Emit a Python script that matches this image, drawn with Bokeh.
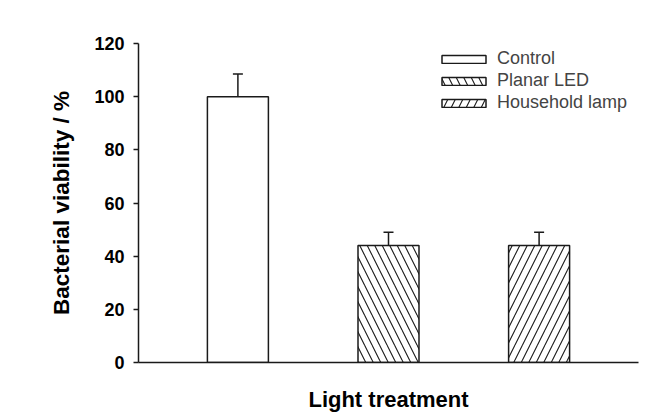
from bokeh.plotting import figure
from bokeh.models import Range1d, FixedTicker, Whisker, TeeHead, ColumnDataSource, Legend, LegendItem
from bokeh.embed import file_html
from bokeh.resources import INLINE

categories = ["Control", "Planar LED", "Household lamp"]
viability = [100, 44, 44]
errors = [8.5, 5, 5]
y_ticks = [0, 20, 40, 60, 80, 100, 120]

hatches = [" ", "\\", "/"]
positions = [i + 1 for i in range(len(categories))]

FONT = "Liberation Sans"
INK = "#1a1a1a"

p = figure(output_backend="svg", toolbar_location=None,
           frame_width=500, frame_height=319,
           min_border_left=138, min_border_top=43,
           min_border_right=20, min_border_bottom=46,
           x_range=Range1d(0.34, 3.66), y_range=Range1d(0, 120))
p.outline_line_color = None
p.grid.visible = False
p.background_fill_color = "white"
p.border_fill_color = "white"

items = []
for i, cat in enumerate(categories):
    r = p.vbar(x=[positions[i]], top=[viability[i]], width=0.405, bottom=0,
               fill_color="white", line_color=INK, line_width=1.5,
               hatch_pattern=hatches[i], hatch_color=INK, hatch_weight=1.1,
               hatch_scale=15)
    items.append(LegendItem(label=cat, renderers=[r]))

src = ColumnDataSource(dict(x=positions, base=viability,
                            upper=[v + e for v, e in zip(viability, errors)]))
w = Whisker(source=src, base="x", lower="base", upper="upper", dimension="height",
            line_color=INK, line_width=1.5,
            upper_head=TeeHead(size=10, line_color=INK, line_width=1.5),
            lower_head=None)
p.add_layout(w)

legend = Legend(items=items, location=(298, 249), padding=0, margin=0,
                border_line_color=None, background_fill_alpha=0,
                glyph_width=55, glyph_height=10, label_height=18, spacing=1,
                label_text_font=FONT, label_text_font_size="18px",
                label_standoff=6)
p.add_layout(legend, "center")

# y axis
p.yaxis.ticker = FixedTicker(ticks=y_ticks)
p.yaxis.minor_tick_line_color = None
p.yaxis.major_tick_out = 5
p.yaxis.major_tick_in = 0
p.yaxis.major_label_standoff = 9
p.yaxis.major_label_text_font = FONT
p.yaxis.major_label_text_font_style = "bold"
p.yaxis.major_label_text_font_size = "18px"
p.yaxis.major_label_text_color = "black"
p.yaxis.axis_line_color = INK
p.yaxis.axis_line_width = 1.5
p.yaxis.major_tick_line_color = INK
p.yaxis.major_tick_line_width = 1.5
p.yaxis.axis_label = "Bacterial viability / %"
p.yaxis.axis_label_text_font = FONT
p.yaxis.axis_label_text_font_style = "bold"
p.yaxis.axis_label_text_font_size = "22.5px"
p.yaxis.axis_label_text_color = "black"
p.yaxis.axis_label_standoff = 17

# x axis
p.xaxis.ticker = FixedTicker(ticks=[])
p.xaxis.minor_tick_line_color = None
p.xaxis.major_tick_line_color = None
p.xaxis.axis_line_color = INK
p.xaxis.axis_line_width = 1.5
p.xaxis.axis_label = "Light treatment"
p.xaxis.axis_label_text_font = FONT
p.xaxis.axis_label_text_font_style = "bold"
p.xaxis.axis_label_text_font_size = "22px"
p.xaxis.axis_label_text_color = "black"
p.xaxis.axis_label_standoff = 24

open("out.html", "w").write(file_html(p, INLINE))
